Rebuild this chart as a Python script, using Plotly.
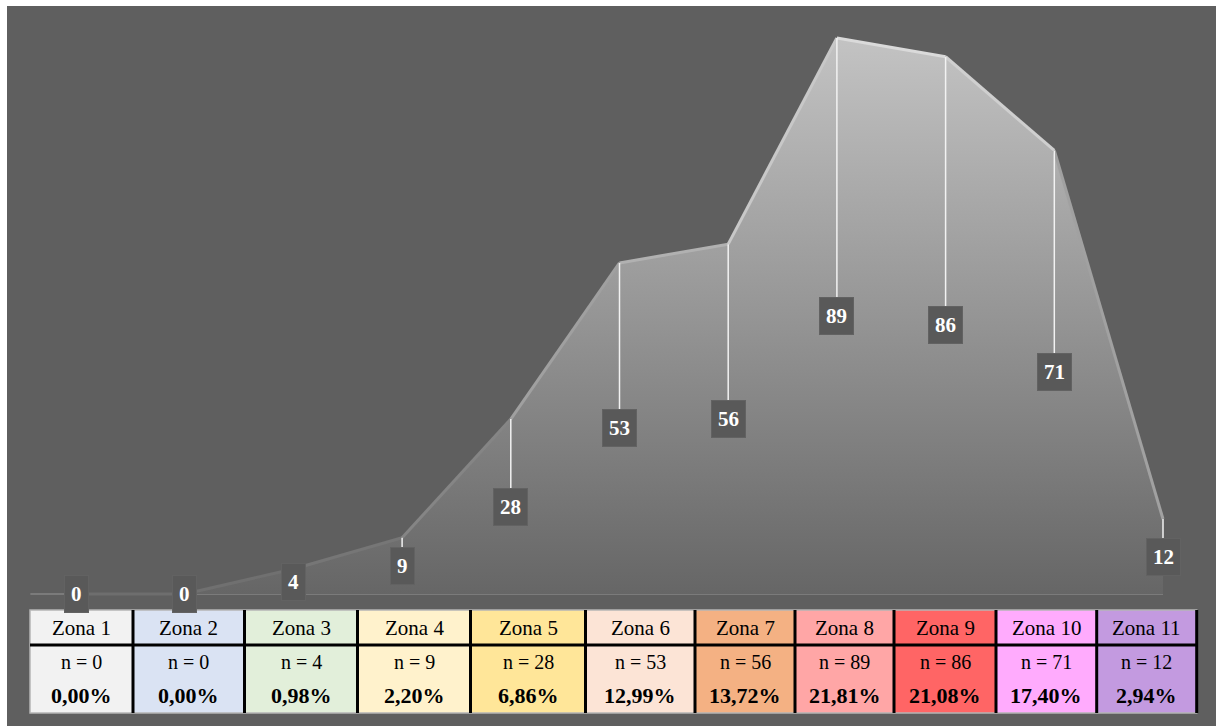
import plotly.graph_objects as go

# ---------------- data ----------------
zones = ["Zona 1", "Zona 2", "Zona 3", "Zona 4", "Zona 5", "Zona 6",
         "Zona 7", "Zona 8", "Zona 9", "Zona 10", "Zona 11"]
counts = [0, 0, 4, 9, 28, 53, 56, 89, 86, 71, 12]
percents = ["0,00%", "0,00%", "0,98%", "2,20%", "6,86%", "12,99%",
            "13,72%", "21,81%", "21,08%", "17,40%", "2,94%"]
zone_colors = ["#f2f2f2", "#dae3f3", "#e2efda", "#fff2cc", "#ffe699", "#fce4d6",
               "#f4b183", "#ffa6a6", "#ff6565", "#ffabfd", "#c39ae0"]

# ---------------- layout constants (pixels) ----------------
W, H = 1216, 726
ML, MT = 7, 6
PW, PH = W - ML, H - MT
X0_PX, DX_PX = 76, 108.7          # x pixel of first category, spacing
Y0_PX, YS_PX = 594, 6.247         # pixel of value 0, pixels per unit

def px_to_paper_x(px):
    return (px - ML) / PW

def py_to_paper_y(py):
    return (H - py) / PH

x_idx = list(range(len(zones)))
xr = [(ML - X0_PX) / DX_PX, (W - X0_PX) / DX_PX]
yr = [(Y0_PX - H) / YS_PX, (Y0_PX - MT) / YS_PX]

BG = "#5f5f5f"
SERIF = "Liberation Serif, Times New Roman, serif"
VMAX = max(counts)

def grey(level):
    c = int(round(level))
    return f"rgb({c},{c},{c})"

fig = go.Figure()

# area with vertical gradient
fig.add_trace(go.Scatter(
    x=x_idx, y=counts, mode="lines",
    line=dict(width=0),
    fill="tozeroy",
    fillgradient=dict(type="vertical",
                      colorscale=[[0, "#666666"], [0.5, "#959595"], [1, "#c3c3c3"]]),
    hoverinfo="skip", showlegend=False,
))

# edge highlight: segments whose brightness follows height
for i in range(len(counts) - 1):
    m = (counts[i] + counts[i + 1]) / 2 / VMAX
    fig.add_trace(go.Scatter(
        x=[x_idx[i], x_idx[i + 1]], y=[counts[i], counts[i + 1]], mode="lines",
        line=dict(color=grey(110 + 110 * m), width=3),
        hoverinfo="skip", showlegend=False,
    ))

shapes = []
annotations = []

# baseline axis line
shapes.append(dict(type="line", xref="x", yref="y", x0=-0.42, x1=10, y0=0, y1=0,
                   line=dict(color="#7b7b7b", width=2), layer="below"))

# leader lines and value labels
for i, v in enumerate(counts):
    if v > 0:
        shapes.append(dict(type="line", xref="x", yref="y", x0=i, x1=i, y0=v, y1=v / 2,
                           line=dict(color="#f2f2f2", width=1.5), layer="above"))
    annotations.append(dict(
        x=i, y=v / 2, xref="x", yref="y", text=f"<b>{v}</b>", showarrow=False,
        font=dict(family=SERIF, size=21, color="white"),
        bgcolor="#595959", borderpad=6, bordercolor="#626262", borderwidth=1,
        xanchor="center", yanchor="middle",
    ))

# ---------------- table ----------------
col_px = [30, 133, 244.5, 357.5, 470.5, 585.5, 695, 795, 894, 996, 1096.7, 1196.7]
T_TOP, T_HEAD, T_BOT = 610, 645, 713
Y_HEAD, Y_N, Y_PCT = 628, 662, 695

for j, z in enumerate(zones):
    xa, xb = px_to_paper_x(col_px[j]), px_to_paper_x(col_px[j + 1])
    shapes.append(dict(type="rect", xref="paper", yref="paper",
                       x0=xa, x1=xb, y0=py_to_paper_y(T_BOT), y1=py_to_paper_y(T_TOP),
                       fillcolor=zone_colors[j], line=dict(width=0), layer="above"))
    xc = (xa + xb) / 2
    common = dict(xref="paper", yref="paper", showarrow=False,
                  xanchor="center", yanchor="middle")
    annotations.append(dict(x=xc, y=py_to_paper_y(Y_HEAD), text=z,
                            font=dict(family=SERIF, size=21, color="black"), **common))
    annotations.append(dict(x=xc, y=py_to_paper_y(Y_N), text=f"n = {counts[j]}",
                            font=dict(family=SERIF, size=20, color="black"), **common))
    annotations.append(dict(x=xc, y=py_to_paper_y(Y_PCT), text=f"<b>{percents[j]}</b>",
                            font=dict(family=SERIF, size=22, color="black"), **common))

# outer light border
shapes.append(dict(type="rect", xref="paper", yref="paper",
                   x0=px_to_paper_x(col_px[0]), x1=px_to_paper_x(col_px[-1]),
                   y0=py_to_paper_y(T_BOT), y1=py_to_paper_y(T_TOP),
                   line=dict(color="#b5b5b5", width=1.5), layer="above"))
# header separator
shapes.append(dict(type="line", xref="paper", yref="paper",
                   x0=px_to_paper_x(col_px[0]), x1=px_to_paper_x(col_px[-1]),
                   y0=py_to_paper_y(T_HEAD), y1=py_to_paper_y(T_HEAD),
                   line=dict(color="black", width=3), layer="above"))
# vertical separators
for px in col_px[1:]:
    shapes.append(dict(type="line", xref="paper", yref="paper",
                       x0=px_to_paper_x(px), x1=px_to_paper_x(px),
                       y0=py_to_paper_y(T_BOT), y1=py_to_paper_y(T_TOP),
                       line=dict(color="black", width=3), layer="above"))

fig.update_layout(
    width=W, height=H,
    margin=dict(l=ML, r=0, t=MT, b=0, pad=0),
    paper_bgcolor="white", plot_bgcolor=BG,
    xaxis=dict(range=xr, visible=False, fixedrange=True),
    yaxis=dict(range=yr, visible=False, fixedrange=True),
    shapes=shapes, annotations=annotations,
    showlegend=False,
)

fig.write_html("out.html")
